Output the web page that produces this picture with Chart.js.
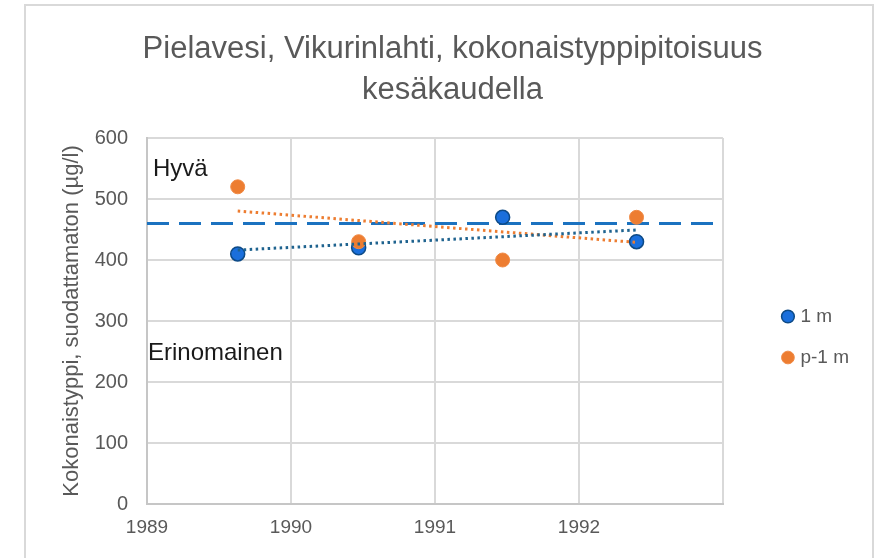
<!DOCTYPE html>
<html>
<head>
<meta charset="utf-8">
<script src="https://cdn.jsdelivr.net/npm/chart.js@4.4.1/dist/chart.umd.min.js"></script>
<style>
  html, body { margin: 0; padding: 0; background: #fff; }
  #wrap { width: 879px; height: 558px; }
</style>
</head>
<body>
<div id="wrap"><canvas id="chart1" width="879" height="558"></canvas></div>
<script>
// sample dates as decimal years
var years = [1989.63, 1990.47, 1991.47, 1992.40];
var depth1m = [410, 420, 470, 430];
var depthP1m = [520, 430, 400, 470];
var xTicks = [1989, 1990, 1991, 1992, 1993];
var yTicks = [0, 100, 200, 300, 400, 500, 600];
var classLimit = 460;   // Hyvä / Erinomainen raja
var classLabels = [
  { text: "Hyvä", value: 548 },
  { text: "Erinomainen", value: 247 }
];

var grey = "#595959";
var font = "'Liberation Sans', Arial, sans-serif";

function points(xs, ys) {
  return xs.map(function(x, i) { return { x: x, y: ys[i] }; });
}

// linear least squares trend, drawn between first and last sample
function trend(xs, ys) {
  var n = xs.length, mx = 0, my = 0;
  for (var i = 0; i < n; i++) { mx += xs[i]; my += ys[i]; }
  mx /= n; my /= n;
  var sxy = 0, sxx = 0;
  for (var i = 0; i < n; i++) {
    sxy += (xs[i] - mx) * (ys[i] - my);
    sxx += (xs[i] - mx) * (xs[i] - mx);
  }
  var k = sxy / sxx;
  return [xs[0], xs[n - 1]].map(function(x) { return { x: x, y: my + k * (x - mx) }; });
}

var framePlugin = {
  id: "frame",
  beforeDraw: function(chart) {
    var ctx = chart.ctx;
    ctx.save();
    ctx.strokeStyle = "#d9d9d9";
    ctx.lineWidth = 2;
    ctx.strokeRect(25, 5, 848, 600);
    ctx.restore();
  },
  afterLayout: function(chart) {
    // nudge the legend away from the plot, centre the title on the frame
    var lg = chart.legend;
    lg.left += 40; lg.right += 40;
    lg.top += 55; lg.bottom += 55;
    var tb = chart.titleBlock;
    tb.left += 28; tb.right += 28;
  },
  afterDraw: function(chart) {
    var ctx = chart.ctx, y = chart.scales.y, area = chart.chartArea;
    ctx.save();
    ctx.fillStyle = "#1a1a1a";
    ctx.font = "24px " + font;
    ctx.textBaseline = "middle";
    ctx.fillText(classLabels[0].text, area.left + 6, y.getPixelForValue(classLabels[0].value));
    ctx.fillText(classLabels[1].text, area.left + 1, y.getPixelForValue(classLabels[1].value));
    ctx.restore();
  }
};

new Chart(document.getElementById("chart1"), {
  type: "scatter",
  data: {
    datasets: [
      {
        label: "1 m",
        data: points(years, depth1m),
        backgroundColor: "#1a6fdc",
        borderColor: "#0d4a86",
        borderWidth: 1.5,
        pointRadius: 7,
        order: 2
      },
      {
        label: "p-1 m",
        data: points(years, depthP1m),
        backgroundColor: "#ed7d31",
        borderColor: "#f08a45",
        borderWidth: 1,
        pointRadius: 7,
        order: 1
      },
      {
        label: "trend 1 m",
        type: "line",
        data: trend(years, depth1m),
        borderColor: "#1f638f",
        borderWidth: 3,
        borderDash: [2.5, 3.5],
        pointRadius: 0,
        order: 0
      },
      {
        label: "trend p-1 m",
        type: "line",
        data: trend(years, depthP1m),
        borderColor: "#ed7d31",
        borderWidth: 3,
        borderDash: [2.5, 3.5],
        pointRadius: 0,
        order: 0
      },
      {
        label: "raja",
        type: "line",
        data: [{ x: xTicks[0], y: classLimit }, { x: xTicks[xTicks.length - 1], y: classLimit }],
        borderColor: "#1b72c0",
        borderWidth: 3,
        borderDash: [22, 10],
        pointRadius: 0,
        order: 3
      }
    ]
  },
  options: {
    responsive: false,
    animation: false,
    layout: { padding: { left: 30, top: 6, right: 60, bottom: 0 } },
    plugins: {
      title: {
        display: true,
        text: ["Pielavesi, Vikurinlahti, kokonaistyppipitoisuus", "kesäkaudella"],
        color: grey,
        font: { family: font, size: 31, weight: "normal", lineHeight: 41 / 31 },
        padding: { top: 22.5, bottom: 27.5 }
      },
      legend: {
        position: "right",
        labels: {
          usePointStyle: true,
          pointStyle: "circle",
          boxHeight: 9,
          boxWidth: 6,
          padding: 22,
          color: grey,
          font: { family: font, size: 19 },
          filter: function(item) { return item.datasetIndex < 2; },
          sort: function(a, b) { return a.datasetIndex - b.datasetIndex; }
        }
      },
      tooltip: { enabled: false }
    },
    scales: {
      x: {
        type: "linear",
        min: xTicks[0],
        max: xTicks[xTicks.length - 1],
        afterBuildTicks: function(scale) {
          scale.ticks = xTicks.map(function(v) { return { value: v }; });
        },
        afterFit: function(scale) { scale.height = 54; },
        ticks: {
          color: grey,
          padding: 12,
          font: { family: font, size: 19 },
          callback: function(v) { return v === 1993 ? "" : String(v); }
        },
        grid: { color: "#d9d9d9", lineWidth: 2, drawTicks: false },
        border: { color: "#c6c6c6", width: 2 }
      },
      y: {
        min: yTicks[0],
        max: yTicks[yTicks.length - 1],
        afterBuildTicks: function(scale) {
          scale.ticks = yTicks.map(function(v) { return { value: v }; });
        },
        afterFit: function(scale) { scale.width = 117; },
        ticks: {
          color: grey,
          padding: 19,
          font: { family: font, size: 20 }
        },
        title: {
          display: true,
          text: "Kokonaistyppi, suodattamaton (µg/l)",
          color: grey,
          font: { family: font, size: 22 },
          padding: { top: 29, bottom: 0 }
        },
        grid: { color: "#d9d9d9", lineWidth: 2, drawTicks: false },
        border: { color: "#c6c6c6", width: 2 }
      }
    }
  },
  plugins: [framePlugin]
});
</script>
</body>
</html>
